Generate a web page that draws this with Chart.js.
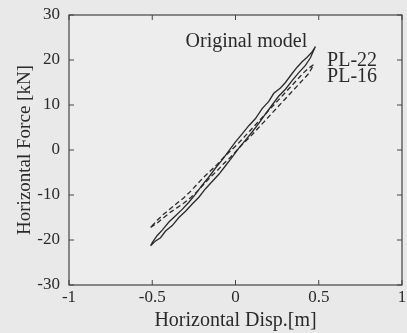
<!DOCTYPE html>
<html>
<head>
<meta charset="utf-8">
<script src="https://cdn.jsdelivr.net/npm/chart.js@4/dist/chart.umd.min.js"></script>
<style>
html,body{margin:0;padding:0;background:#e9e9e9;}
#wrap{width:407px;height:333px;position:relative;}
</style>
</head>
<body>
<div id="wrap"><canvas id="c" width="407" height="333"></canvas></div>
<script>
// PL-22 (solid): loading branch then unloading branch [x (m), F (kN)]
const pl22X = [-0.51,-0.48,-0.45,-0.42,-0.38,-0.34,-0.30,-0.26,-0.22,-0.18,-0.14,-0.10,-0.06,-0.02,0.02,0.06,0.10,0.14,0.18,0.22,0.26,0.30,0.34,0.38,0.42,0.45,0.48,
               0.46,0.43,0.40,0.37,0.34,0.30,0.27,0.23,0.20,0.16,0.12,0.08,0.04,0.00,-0.04,-0.08,-0.12,-0.16,-0.20,-0.24,-0.28,-0.32,-0.36,-0.40,-0.44,-0.47,-0.50,-0.51];
const pl22F = [-21.3,-20.2,-19.5,-18.0,-16.8,-15.0,-13.6,-12.0,-10.5,-8.6,-7.0,-5.4,-3.5,-1.6,0.4,2.2,4.0,5.9,8.0,10.0,12.0,13.5,15.4,17.2,18.8,20.5,23.0,
               21.8,20.6,19.6,18.4,17.0,15.0,13.8,12.6,10.8,9.2,7.0,5.4,3.6,1.8,-0.2,-2.2,-4.0,-6.0,-7.8,-9.8,-11.6,-13.2,-14.6,-16.0,-17.8,-19.0,-20.6,-21.3];
// PL-16 (dashed)
const pl16X = [-0.51,-0.47,-0.43,-0.39,-0.35,-0.31,-0.27,-0.23,-0.19,-0.15,-0.11,-0.07,-0.03,0.01,0.05,0.09,0.13,0.17,0.21,0.25,0.29,0.33,0.37,0.41,0.44,0.47,
               0.44,0.41,0.37,0.33,0.29,0.25,0.21,0.17,0.13,0.09,0.05,0.01,-0.03,-0.07,-0.11,-0.15,-0.19,-0.23,-0.27,-0.31,-0.35,-0.39,-0.43,-0.47,-0.51];
const pl16F = [-17.2,-16.2,-15.0,-13.8,-12.8,-11.8,-10.6,-9.2,-7.6,-6.0,-4.6,-3.0,-1.6,0.0,1.6,3.0,4.6,6.2,7.8,9.4,11.0,12.6,14.2,15.8,17.0,19.0,
               18.2,17.2,15.6,14.0,12.4,10.8,9.2,7.6,6.0,4.4,2.8,1.2,-0.2,-1.6,-3.2,-4.6,-6.0,-7.6,-9.2,-10.6,-11.8,-13.0,-14.2,-15.6,-17.2];
const xTicks = [-1,-0.5,0,0.5,1];
const yTicks = [-30,-20,-10,0,10,20,30];
const seriesNames = ['PL-22','PL-16'];
const modelLabel = 'Original model';

const FONT = '"Liberation Serif","DejaVu Serif",serif';
const ink = '#2a2a2a';

const toPts = (xs, ys) => xs.map((x, i) => ({x: x, y: ys[i]}));

const frame = {
  id: 'frame',
  beforeDraw(chart) {
    const {ctx, chartArea: a} = chart;
    ctx.save();
    ctx.fillStyle = '#ededed';
    ctx.fillRect(a.left, a.top, a.right - a.left, a.bottom - a.top);
    ctx.restore();
  },
  afterDraw(chart) {
    const {ctx, chartArea: a, scales} = chart;
    ctx.save();
    ctx.strokeStyle = '#444';
    ctx.lineWidth = 1.2;
    ctx.strokeRect(a.left, a.top, a.right - a.left, a.bottom - a.top);
    ctx.lineWidth = 1;
    const L = 5;
    xTicks.forEach(v => {
      const p = scales.x.getPixelForValue(v);
      ctx.beginPath();
      ctx.moveTo(p, a.bottom); ctx.lineTo(p, a.bottom - L);
      ctx.moveTo(p, a.top); ctx.lineTo(p, a.top + L);
      ctx.stroke();
    });
    yTicks.forEach(v => {
      const p = scales.y.getPixelForValue(v);
      ctx.beginPath();
      ctx.moveTo(a.left, p); ctx.lineTo(a.left + L, p);
      ctx.moveTo(a.right, p); ctx.lineTo(a.right - L, p);
      ctx.stroke();
    });
    // annotations
    ctx.fillStyle = ink;
    ctx.font = '20px ' + FONT;
    ctx.textBaseline = 'middle';
    ctx.textAlign = 'left';
    const X = v => scales.x.getPixelForValue(v);
    const Y = v => scales.y.getPixelForValue(v);
    ctx.fillText(modelLabel, X(-0.3), Y(24.0));
    ctx.fillText(seriesNames[0], X(0.55), Y(19.8));
    ctx.fillText(seriesNames[1], X(0.55), Y(16.2));
    ctx.restore();
  }
};

new Chart(document.getElementById('c'), {
  type: 'scatter',
  data: {
    datasets: [
      {label: seriesNames[0], data: toPts(pl22X, pl22F), showLine: true, borderColor: ink, borderWidth: 1.3, pointRadius: 0, tension: 0},
      {label: seriesNames[1], data: toPts(pl16X, pl16F), showLine: true, borderColor: ink, borderWidth: 1.3, borderDash: [5, 3], pointRadius: 0, tension: 0}
    ]
  },
  options: {
    responsive: false,
    animation: false,
    layout: {padding: {top: 15, right: 5, left: 14, bottom: 0}},
    plugins: {legend: {display: false}, tooltip: {enabled: false}},
    scales: {
      x: {
        type: 'linear', min: -1, max: 1,
        afterBuildTicks: s => { s.ticks = xTicks.map(v => ({value: v})); },
        afterFit: s => { s.height = 48; s.paddingLeft = 0; s.paddingRight = 0; },
        grid: {display: false, drawTicks: false},
        border: {display: false},
        ticks: {color: ink, font: {family: FONT, size: 17}, padding: 2, maxRotation: 0,
                callback: v => String(v)},
        title: {display: true, text: 'Horizontal Disp.[m]', color: ink, font: {family: FONT, size: 20}, padding: {top: 0, bottom: 0}}
      },
      y: {
        type: 'linear', min: -30, max: 30,
        afterBuildTicks: s => { s.ticks = yTicks.map(v => ({value: v})); },
        afterFit: s => { s.width = 55; s.paddingTop = 0; s.paddingBottom = 0; },
        grid: {display: false, drawTicks: false},
        border: {display: false},
        ticks: {color: ink, font: {family: FONT, size: 17}, padding: 9,
                callback: v => String(v)},
        title: {display: true, text: 'Horizontal Force [kN]', color: ink, font: {family: FONT, size: 19}, padding: {top: 0, bottom: 0}}
      }
    }
  },
  plugins: [frame]
});
</script>
</body>
</html>
